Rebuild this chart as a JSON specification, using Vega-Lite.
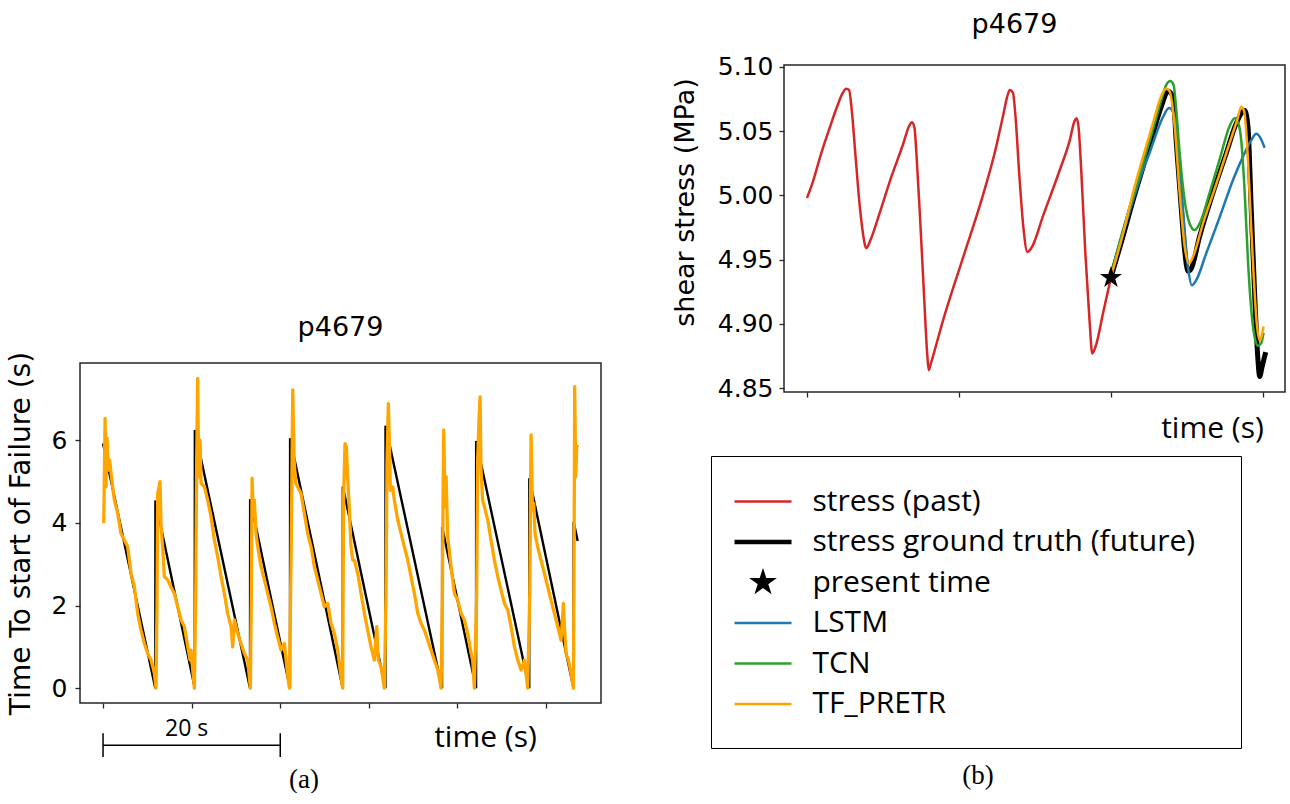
{
  "$schema": "https://vega.github.io/schema/vega-lite/v6.json",
  "background": "white",
  "padding": {"left": 6, "top": 10, "right": 0, "bottom": 0},
  "config": {
    "font": "DejaVu Sans",
    "view": {"stroke": "#262626", "strokeWidth": 1.5},
    "axis": {"domain": false, "grid": false, "tickColor": "#262626", "tickSize": 5, "tickWidth": 1.3, "labelFont": "DejaVu Sans", "labelFontSize": 25, "labelColor": "#000", "titleColor": "#000", "titleFontWeight": "normal", "labelPadding": 6},
    "title": {"font": "DejaVu Sans", "fontSize": 27, "fontWeight": "normal", "color": "#000"}
  },
  "datasets": {
    "ttf_truth": [{"t":0,"v":5.92},{"t":5.9,"v":0},{"t":5.91,"v":4.54},{"t":10.35,"v":0},{"t":10.36,"v":6.25},{"t":16.59,"v":0},{"t":16.6,"v":4.57},{"t":21.1,"v":0},{"t":21.11,"v":6.05},{"t":27.05,"v":0},{"t":27.06,"v":4.88},{"t":31.87,"v":0},{"t":31.88,"v":6.35},{"t":38.26,"v":0},{"t":38.27,"v":3.9},{"t":42.1,"v":0},{"t":42.11,"v":5.98},{"t":48.1,"v":0},{"t":48.11,"v":5.08},{"t":53.1,"v":0},{"t":53.11,"v":4.03},{"t":53.57,"v":3.56}],
    "ttf_pred": [
      {"t":0.08,"v":3.99},{"t":0.23,"v":6.53},{"t":0.34,"v":4.87},{"t":0.45,"v":6.05},{"t":0.6,"v":5.28},{"t":0.75,"v":5.52},{"t":0.9,"v":5.2},{"t":1.28,"v":4.55},{"t":1.66,"v":4.23},{"t":2.03,"v":3.74},{"t":2.41,"v":3.58},{"t":2.78,"v":3.42},{"t":3.16,"v":2.78},{"t":3.54,"v":2.45},{"t":3.91,"v":1.81},{"t":4.29,"v":1.4},{"t":4.67,"v":1.08},{"t":5.04,"v":0.84},{"t":5.42,"v":0.68},{"t":5.79,"v":0.36},{"t":5.98,"v":0},
      {"t":6.09,"v":1.97},{"t":6.17,"v":4.71},{"t":6.32,"v":4.87},{"t":6.43,"v":5.0},{"t":6.55,"v":3.91},{"t":6.73,"v":3.42},{"t":6.92,"v":2.7},{"t":7.3,"v":2.62},{"t":7.67,"v":2.45},{"t":8.05,"v":2.29},{"t":8.43,"v":1.97},{"t":8.8,"v":1.65},{"t":9.18,"v":1.49},{"t":9.56,"v":1.0},{"t":9.82,"v":0.68},{"t":9.93,"v":0.92},{"t":10.12,"v":0.44},{"t":10.31,"v":0},
      {"t":10.46,"v":2.29},{"t":10.57,"v":5.52},{"t":10.68,"v":7.5},{"t":10.8,"v":5.12},{"t":10.95,"v":6.0},{"t":11.06,"v":4.96},{"t":11.44,"v":4.88},{"t":11.81,"v":4.55},{"t":12.19,"v":4.15},{"t":12.57,"v":3.58},{"t":12.94,"v":3.18},{"t":13.32,"v":2.7},{"t":13.69,"v":2.29},{"t":14.07,"v":1.81},{"t":14.45,"v":1.49},{"t":14.63,"v":1.0},{"t":14.82,"v":1.65},{"t":15.2,"v":1.32},{"t":15.58,"v":1.08},{"t":15.95,"v":0.84},{"t":16.33,"v":0.68},{"t":16.63,"v":0},
      {"t":16.74,"v":2.29},{"t":16.82,"v":5.08},{"t":16.97,"v":4.15},{"t":17.08,"v":4.55},{"t":17.27,"v":3.74},{"t":17.46,"v":3.42},{"t":17.83,"v":2.94},{"t":18.21,"v":2.62},{"t":18.59,"v":2.29},{"t":18.96,"v":1.97},{"t":19.34,"v":1.57},{"t":19.71,"v":1.24},{"t":20.09,"v":0.92},{"t":20.47,"v":1.08},{"t":20.77,"v":0.44},{"t":21.03,"v":0},
      {"t":21.22,"v":3.1},{"t":21.41,"v":7.22},{"t":21.56,"v":5.52},{"t":21.75,"v":4.96},{"t":21.97,"v":4.87},{"t":22.35,"v":4.71},{"t":22.72,"v":4.23},{"t":23.1,"v":3.74},{"t":23.48,"v":3.42},{"t":23.85,"v":2.94},{"t":24.23,"v":2.62},{"t":24.61,"v":2.29},{"t":24.98,"v":1.97},{"t":25.36,"v":2.05},{"t":25.73,"v":1.57},{"t":26.11,"v":1.32},{"t":26.49,"v":0.92},{"t":26.86,"v":0.27},{"t":27.05,"v":0},
      {"t":27.09,"v":2.29},{"t":27.16,"v":4.71},{"t":27.31,"v":5.92},{"t":27.46,"v":5.84},{"t":27.62,"v":5.04},{"t":27.8,"v":4.31},{"t":27.99,"v":3.42},{"t":28.18,"v":3.1},{"t":28.37,"v":3.1},{"t":28.74,"v":2.78},{"t":29.12,"v":2.29},{"t":29.5,"v":1.81},{"t":29.87,"v":1.4},{"t":30.25,"v":1.0},{"t":30.62,"v":0.68},{"t":30.89,"v":1.49},{"t":31.07,"v":0.68},{"t":31.38,"v":0.52},{"t":31.75,"v":0},
      {"t":31.94,"v":2.29},{"t":32.05,"v":5.52},{"t":32.2,"v":6.89},{"t":32.32,"v":5.92},{"t":32.43,"v":4.79},{"t":32.69,"v":4.87},{"t":32.88,"v":4.55},{"t":33.26,"v":4.07},{"t":33.64,"v":3.74},{"t":34.01,"v":3.42},{"t":34.39,"v":3.1},{"t":34.76,"v":2.7},{"t":35.14,"v":2.29},{"t":35.52,"v":1.81},{"t":35.89,"v":1.57},{"t":36.27,"v":1.4},{"t":36.65,"v":1.16},{"t":37.02,"v":0.92},{"t":37.4,"v":0.68},{"t":37.78,"v":0.44},{"t":38.15,"v":0},
      {"t":38.3,"v":2.29},{"t":38.38,"v":4.71},{"t":38.45,"v":6.25},{"t":38.61,"v":4.39},{"t":38.72,"v":5.12},{"t":38.9,"v":3.66},{"t":39.28,"v":2.94},{"t":39.66,"v":2.29},{"t":40.03,"v":2.13},{"t":40.41,"v":1.81},{"t":40.79,"v":1.65},{"t":41.16,"v":1.32},{"t":41.54,"v":0.84},{"t":41.72,"v":0.68},{"t":41.91,"v":0},
      {"t":42.17,"v":2.29},{"t":42.28,"v":5.52},{"t":42.43,"v":6.49},{"t":42.55,"v":7.05},{"t":42.66,"v":5.28},{"t":42.85,"v":4.55},{"t":43.04,"v":4.39},{"t":43.42,"v":4.07},{"t":43.79,"v":3.58},{"t":44.17,"v":3.1},{"t":44.55,"v":2.7},{"t":44.92,"v":2.37},{"t":45.3,"v":2.05},{"t":45.68,"v":1.89},{"t":46.05,"v":1.49},{"t":46.43,"v":1.0},{"t":46.81,"v":0.68},{"t":47.18,"v":0.44},{"t":47.56,"v":0.68},{"t":47.93,"v":0},
      {"t":48.16,"v":2.29},{"t":48.31,"v":6.13},{"t":48.46,"v":4.31},{"t":48.61,"v":4.47},{"t":48.76,"v":3.74},{"t":49.06,"v":3.42},{"t":49.43,"v":3.1},{"t":49.81,"v":2.78},{"t":50.19,"v":2.45},{"t":50.56,"v":2.13},{"t":50.94,"v":1.81},{"t":51.32,"v":1.49},{"t":51.69,"v":1.16},{"t":51.96,"v":2.05},{"t":52.07,"v":1.49},{"t":52.26,"v":0.84},{"t":52.52,"v":0.68},{"t":52.82,"v":0.36},{"t":53.09,"v":0},
      {"t":53.16,"v":3.1},{"t":53.23,"v":7.3},{"t":53.35,"v":5.12},{"t":53.46,"v":5.84},{"t":53.57,"v":5.9}
    ],
    "stress": [
      {"series":"stress (past)","t":0,"v":4.998},{"series":"stress (past)","t":0.04,"v":5.011},{"series":"stress (past)","t":0.092,"v":5.032},{"series":"stress (past)","t":0.145,"v":5.051},{"series":"stress (past)","t":0.198,"v":5.069},{"series":"stress (past)","t":0.232,"v":5.079},{"series":"stress (past)","t":0.258,"v":5.083},{"series":"stress (past)","t":0.277,"v":5.082},{"series":"stress (past)","t":0.295,"v":5.066},{"series":"stress (past)","t":0.322,"v":5.027},{"series":"stress (past)","t":0.348,"v":4.991},{"series":"stress (past)","t":0.369,"v":4.97},{"series":"stress (past)","t":0.39,"v":4.959},{"series":"stress (past)","t":0.417,"v":4.965},{"series":"stress (past)","t":0.475,"v":4.985},{"series":"stress (past)","t":0.554,"v":5.014},{"series":"stress (past)","t":0.633,"v":5.04},{"series":"stress (past)","t":0.672,"v":5.054},{"series":"stress (past)","t":0.691,"v":5.057},{"series":"stress (past)","t":0.707,"v":5.053},{"series":"stress (past)","t":0.722,"v":5.029},{"series":"stress (past)","t":0.744,"v":4.983},{"series":"stress (past)","t":0.77,"v":4.923},{"series":"stress (past)","t":0.791,"v":4.877},{"series":"stress (past)","t":0.801,"v":4.864},{"series":"stress (past)","t":0.817,"v":4.87},{"series":"stress (past)","t":0.896,"v":4.903},{"series":"stress (past)","t":1.028,"v":4.952},{"series":"stress (past)","t":1.16,"v":5.001},{"series":"stress (past)","t":1.239,"v":5.035},{"series":"stress (past)","t":1.292,"v":5.063},{"series":"stress (past)","t":1.318,"v":5.077},{"series":"stress (past)","t":1.334,"v":5.082},{"series":"stress (past)","t":1.355,"v":5.08},{"series":"stress (past)","t":1.371,"v":5.063},{"series":"stress (past)","t":1.397,"v":5.016},{"series":"stress (past)","t":1.424,"v":4.975},{"series":"stress (past)","t":1.45,"v":4.956},{"series":"stress (past)","t":1.476,"v":4.959},{"series":"stress (past)","t":1.556,"v":4.985},{"series":"stress (past)","t":1.661,"v":5.019},{"series":"stress (past)","t":1.727,"v":5.042},{"series":"stress (past)","t":1.761,"v":5.058},{"series":"stress (past)","t":1.774,"v":5.06},{"series":"stress (past)","t":1.787,"v":5.053},{"series":"stress (past)","t":1.806,"v":5.016},{"series":"stress (past)","t":1.832,"v":4.954},{"series":"stress (past)","t":1.859,"v":4.903},{"series":"stress (past)","t":1.877,"v":4.877},{"series":"stress (past)","t":1.898,"v":4.882},{"series":"stress (past)","t":1.951,"v":4.91},{"series":"stress (past)","t":2.0,"v":4.936},
      {"series":"stress ground truth (future)","t":2.0,"v":4.936},{"series":"stress ground truth (future)","t":2.079,"v":4.968},{"series":"stress ground truth (future)","t":2.145,"v":4.996},{"series":"stress ground truth (future)","t":2.211,"v":5.022},{"series":"stress ground truth (future)","t":2.276,"v":5.048},{"series":"stress ground truth (future)","t":2.331,"v":5.069},{"series":"stress ground truth (future)","t":2.375,"v":5.081},{"series":"stress ground truth (future)","t":2.408,"v":5.077},{"series":"stress ground truth (future)","t":2.43,"v":5.041},{"series":"stress ground truth (future)","t":2.463,"v":4.989},{"series":"stress ground truth (future)","t":2.485,"v":4.957},{"series":"stress ground truth (future)","t":2.507,"v":4.941},{"series":"stress ground truth (future)","t":2.528,"v":4.943},{"series":"stress ground truth (future)","t":2.583,"v":4.968},{"series":"stress ground truth (future)","t":2.671,"v":5.002},{"series":"stress ground truth (future)","t":2.759,"v":5.033},{"series":"stress ground truth (future)","t":2.824,"v":5.056},{"series":"stress ground truth (future)","t":2.88,"v":5.066},{"series":"stress ground truth (future)","t":2.901,"v":5.054},{"series":"stress ground truth (future)","t":2.923,"v":4.989},{"series":"stress ground truth (future)","t":2.945,"v":4.924},{"series":"stress ground truth (future)","t":2.967,"v":4.872},{"series":"stress ground truth (future)","t":2.978,"v":4.859},{"series":"stress ground truth (future)","t":2.995,"v":4.867},{"series":"stress ground truth (future)","t":3.018,"v":4.878},
      {"series":"LSTM","t":2.0,"v":4.937},{"series":"LSTM","t":2.079,"v":4.97},{"series":"LSTM","t":2.145,"v":4.996},{"series":"LSTM","t":2.211,"v":5.02},{"series":"LSTM","t":2.254,"v":5.033},{"series":"LSTM","t":2.298,"v":5.048},{"series":"LSTM","t":2.342,"v":5.061},{"series":"LSTM","t":2.382,"v":5.068},{"series":"LSTM","t":2.412,"v":5.064},{"series":"LSTM","t":2.441,"v":5.038},{"series":"LSTM","t":2.474,"v":4.989},{"series":"LSTM","t":2.507,"v":4.944},{"series":"LSTM","t":2.533,"v":4.93},{"series":"LSTM","t":2.561,"v":4.934},{"series":"LSTM","t":2.627,"v":4.955},{"series":"LSTM","t":2.715,"v":4.983},{"series":"LSTM","t":2.803,"v":5.012},{"series":"LSTM","t":2.868,"v":5.03},{"series":"LSTM","t":2.923,"v":5.043},{"series":"LSTM","t":2.956,"v":5.048},{"series":"LSTM","t":2.982,"v":5.045},{"series":"LSTM","t":3.011,"v":5.037},
      {"series":"TCN","t":2.0,"v":4.938},{"series":"TCN","t":2.079,"v":4.973},{"series":"TCN","t":2.145,"v":4.999},{"series":"TCN","t":2.211,"v":5.025},{"series":"TCN","t":2.276,"v":5.051},{"series":"TCN","t":2.331,"v":5.074},{"series":"TCN","t":2.364,"v":5.086},{"series":"TCN","t":2.39,"v":5.089},{"series":"TCN","t":2.412,"v":5.086},{"series":"TCN","t":2.43,"v":5.066},{"series":"TCN","t":2.452,"v":5.033},{"series":"TCN","t":2.485,"v":4.996},{"series":"TCN","t":2.518,"v":4.978},{"series":"TCN","t":2.551,"v":4.973},{"series":"TCN","t":2.583,"v":4.978},{"series":"TCN","t":2.649,"v":5.002},{"series":"TCN","t":2.715,"v":5.028},{"series":"TCN","t":2.781,"v":5.054},{"series":"TCN","t":2.814,"v":5.06},{"series":"TCN","t":2.836,"v":5.057},{"series":"TCN","t":2.857,"v":5.043},{"series":"TCN","t":2.88,"v":5.002},{"series":"TCN","t":2.901,"v":4.95},{"series":"TCN","t":2.923,"v":4.911},{"series":"TCN","t":2.945,"v":4.89},{"series":"TCN","t":2.967,"v":4.883},{"series":"TCN","t":2.989,"v":4.885},{"series":"TCN","t":3.004,"v":4.893},
      {"series":"TF_PRETR","t":2.0,"v":4.937},{"series":"TF_PRETR","t":2.079,"v":4.97},{"series":"TF_PRETR","t":2.145,"v":5.002},{"series":"TF_PRETR","t":2.211,"v":5.03},{"series":"TF_PRETR","t":2.276,"v":5.056},{"series":"TF_PRETR","t":2.32,"v":5.074},{"series":"TF_PRETR","t":2.364,"v":5.083},{"series":"TF_PRETR","t":2.386,"v":5.081},{"series":"TF_PRETR","t":2.419,"v":5.054},{"series":"TF_PRETR","t":2.452,"v":5.002},{"series":"TF_PRETR","t":2.485,"v":4.96},{"series":"TF_PRETR","t":2.513,"v":4.947},{"series":"TF_PRETR","t":2.539,"v":4.952},{"series":"TF_PRETR","t":2.605,"v":4.978},{"series":"TF_PRETR","t":2.693,"v":5.009},{"series":"TF_PRETR","t":2.781,"v":5.041},{"series":"TF_PRETR","t":2.836,"v":5.061},{"series":"TF_PRETR","t":2.857,"v":5.069},{"series":"TF_PRETR","t":2.875,"v":5.066},{"series":"TF_PRETR","t":2.895,"v":5.041},{"series":"TF_PRETR","t":2.917,"v":4.989},{"series":"TF_PRETR","t":2.939,"v":4.937},{"series":"TF_PRETR","t":2.961,"v":4.898},{"series":"TF_PRETR","t":2.978,"v":4.887},{"series":"TF_PRETR","t":3.004,"v":4.898}
    ],
    "present": [{"series":"present time","t":2.0,"v":4.936}],
    "scalebar": [{"start": 0, "end": 20, "label": "20 s"}]
  },
  "spacing": 68,
  "resolve": {"scale": {"color": "independent", "shape": "independent"}, "legend": {"color": "independent", "shape": "independent"}},
  "hconcat": [
    {
      "title": {"text": "(a)", "orient": "bottom", "font": "Liberation Serif", "fontSize": 27, "offset": 8, "anchor": "middle"},
      "spacing": 0,
      "vconcat": [
        {"width": 521, "height": 248, "view": {"stroke": null}, "data": {"values": [{"blank": ""}]}, "mark": {"type": "text", "text": ""}},
        {
          "width": 521, "height": 340,
          "title": {"text": "p4679", "offset": 9},
          "layer": [
            {"data": {"name": "ttf_truth"}, "mark": {"type": "line", "color": "#000000", "strokeWidth": 2.4},
             "encoding": {
               "x": {"field": "t", "type": "quantitative", "scale": {"domain": [-2.6, 56.2], "nice": false, "zero": false},
                     "axis": {"values": [0, 10, 20, 30, 40, 50], "labels": false, "title": "time (s)", "titleFont": "Open Sans", "titleFontSize": 30, "titleX": 405, "titleY": 34, "titleAlign": "center", "titleBaseline": "middle"}},
               "y": {"field": "v", "type": "quantitative", "scale": {"domain": [-0.36, 7.87], "nice": false, "zero": false},
                     "axis": {"values": [0, 2, 4, 6], "labelPadding": 8, "title": "Time To start of Failure (s)", "titleFontSize": 28, "titleX": -59, "titleY": 170, "titleAlign": "center", "titleBaseline": "middle", "titleAngle": 270}}
             }},
            {"data": {"name": "ttf_pred"}, "mark": {"type": "line", "color": "#ffa500", "strokeWidth": 3.3, "strokeJoin": "round"},
             "encoding": {"x": {"field": "t", "type": "quantitative"}, "y": {"field": "v", "type": "quantitative"}}},
            {"data": {"name": "scalebar"}, "mark": {"type": "rule", "color": "#000000", "strokeWidth": 1.5, "clip": false},
             "encoding": {"x": {"field": "start", "type": "quantitative"}, "x2": {"field": "end"}, "y": {"datum": -1.38, "type": "quantitative"}}},
            {"data": {"name": "scalebar"}, "mark": {"type": "rule", "color": "#000000", "strokeWidth": 1.5, "clip": false},
             "encoding": {"x": {"field": "start", "type": "quantitative"}, "y": {"datum": -1.09, "type": "quantitative"}, "y2": {"datum": -1.67}}},
            {"data": {"name": "scalebar"}, "mark": {"type": "rule", "color": "#000000", "strokeWidth": 1.5, "clip": false},
             "encoding": {"x": {"field": "end", "type": "quantitative"}, "y": {"datum": -1.09, "type": "quantitative"}, "y2": {"datum": -1.67}}},
            {"data": {"name": "scalebar"}, "mark": {"type": "text", "font": "Open Sans", "fontSize": 23, "color": "#000000", "align": "center", "baseline": "middle", "dx": -5, "clip": false},
             "encoding": {"x": {"datum": 10, "type": "quantitative"}, "y": {"datum": -0.99, "type": "quantitative"}, "text": {"field": "label"}}}
          ]
        }
      ]
    },
    {
      "title": {"text": "(b)", "orient": "bottom", "font": "Liberation Serif", "fontSize": 27, "offset": 14, "anchor": "middle"},
      "resolve": {"scale": {"color": "independent", "shape": "independent"}, "legend": {"color": "independent", "shape": "independent"}},
      "vconcat": [
        {
          "width": 501, "height": 327,
          "title": {"text": "p4679", "offset": 16, "dx": -20},
          "encoding": {
            "x": {"field": "t", "type": "quantitative", "scale": {"domain": [-0.151, 3.145], "nice": false, "zero": false},
                  "axis": {"values": [0, 1, 2, 3], "labels": false, "title": "time (s)", "titleFont": "Open Sans", "titleFontSize": 30, "titleX": 428, "titleY": 36, "titleAlign": "center", "titleBaseline": "middle"}},
            "y": {"field": "v", "type": "quantitative", "scale": {"domain": [4.847, 5.1015], "nice": false, "zero": false},
                  "axis": {"values": [4.85, 4.9, 4.95, 5.0, 5.05, 5.1], "format": ".2f", "title": "shear stress (MPa)", "titleFontSize": 27, "titleX": -99, "titleY": 137, "titleAlign": "center", "titleBaseline": "middle", "titleAngle": 270}},
            "color": {"field": "series", "type": "nominal",
                      "scale": {"domain": ["stress (past)", "stress ground truth (future)", "present time", "LSTM", "TCN", "TF_PRETR"], "range": ["#d62728", "#000000", "#000000", "#1f77b4", "#2ca02c", "#ffa500"]},
                      "legend": {
                        "title": "\u00a0", "titleOrient": "right", "titlePadding": 17, "titleFontSize": 10,
                        "orient": "none", "legendX": -73, "legendY": 391,
                        "padding": 29, "strokeColor": "#000000", "fillColor": "#ffffff", "cornerRadius": 0,
                        "symbolSize": 900, "symbolStrokeWidth": 2.5, "symbolOffset": 6.5,
                        "labelOffset": 33, "rowPadding": 8.5, "labelFont": "Open Sans", "labelFontSize": 30, "labelColor": "#000000", "labelLimit": 700, "labelBaseline": "middle"
                      }}
          },
          "layer": [
            {"data": {"name": "stress"}, "transform": [{"filter": "datum.series === 'stress (past)'"}], "mark": {"type": "line", "strokeWidth": 2.5, "interpolate": "monotone"}},
            {"data": {"name": "stress"}, "transform": [{"filter": "datum.series === 'stress ground truth (future)'"}], "mark": {"type": "line", "strokeWidth": 5, "interpolate": "monotone"}},
            {"data": {"name": "stress"}, "transform": [{"filter": "datum.series === 'LSTM' || datum.series === 'TCN' || datum.series === 'TF_PRETR'"}], "mark": {"type": "line", "strokeWidth": 2.5, "interpolate": "monotone"}},
            {"data": {"name": "present"}, "mark": {"type": "point", "filled": true, "size": 1100, "opacity": 1},
             "encoding": {"shape": {"field": "series", "type": "nominal",
               "scale": {"domain": ["stress (past)", "stress ground truth (future)", "present time", "LSTM", "TCN", "TF_PRETR"],
                         "range": ["M-1.9,0H1.9", "M-1.9,-0.06H1.9M-1.9,0.06H1.9", "M0,-0.7L0.158,-0.216L0.666,-0.216L0.254,0.083L0.412,0.566L0,0.267L-0.412,0.566L-0.254,0.083L-0.666,-0.216L-0.158,-0.216Z", "M-1.9,0H1.9", "M-1.9,0H1.9", "M-1.9,0H1.9"]},
               "legend": {
                        "title": "\u00a0", "titleOrient": "right", "titlePadding": 17, "titleFontSize": 10,
                        "orient": "none", "legendX": -73, "legendY": 391,
                        "padding": 29, "strokeColor": "#000000", "fillColor": "#ffffff", "cornerRadius": 0,
                        "symbolSize": 900, "symbolStrokeWidth": 2.5, "symbolOffset": 6.5,
                        "labelOffset": 33, "rowPadding": 8.5, "labelFont": "Open Sans", "labelFontSize": 30, "labelColor": "#000000", "labelLimit": 700, "labelBaseline": "middle"
               }}}}
          ]
        }
      ]
    }
  ]
}
